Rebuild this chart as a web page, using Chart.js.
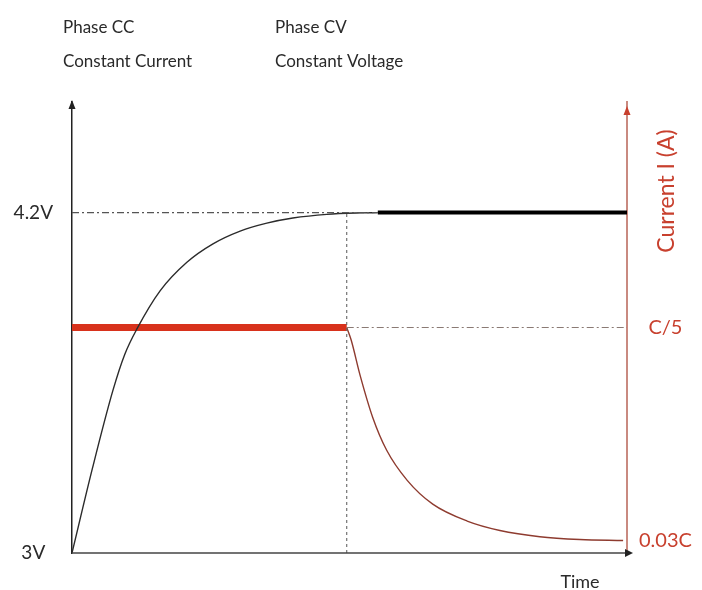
<!DOCTYPE html>
<html>
<head>
<meta charset="utf-8">
<script src="https://cdn.jsdelivr.net/npm/chart.js@4.4.0/dist/chart.umd.min.js"></script>
<style>
body { margin: 0; background: #fff; }
#wrap { width: 702px; height: 590px; position: relative; }
</style>
</head>
<body>
<div id="wrap"><canvas id="charge"></canvas></div>
<script>
// time runs 0..100 across the plot
var timeV = [0, 3.7, 7.4, 9.5, 11.7, 15.9, 20.7, 25.4, 30.3, 35.1, 39.8, 45.9, 51.9, 55.1];
var voltage = [3.0, 3.30, 3.575, 3.70, 3.790, 3.925, 4.025, 4.090, 4.135, 4.163, 4.181, 4.194, 4.199, 4.2];
var timeCV = [55.1, 100];
var voltageCV = [4.2, 4.2];
var timeCC = [0, 49.5];
var currentCC = [0.2, 0.2];
var timeI = [49.5, 50.3, 51.9, 54.2, 56.7, 60.4, 65.0, 71.2, 77.1, 84.3, 91.5, 99.3];
var current = [0.2, 0.190, 0.162, 0.128, 0.102, 0.078, 0.059, 0.0455, 0.0380, 0.0330, 0.0308, 0.030];
var voltTicks = [3, 4.2];
var voltLabels = ['3V', '4.2V'];
var ampTicks = [0.03, 0.2];
var ampLabels = ['0.03C', 'C/5'];
var phaseSwitch = 49.5;

function pts(xs, ys) {
	var out = [];
	for (var i in xs) {
		out.push({x: xs[i], y: ys[i]});
	}
	return out;
}

var FONT = 'Lato, "Open Sans", sans-serif';
var dashDot = [7, 3, 2, 3];

var extras = {
	id: 'extras',
	afterDraw: function(chart) {
		var c = chart.ctx;
		var a = chart.chartArea;
		c.save();
		// x axis with arrow
		c.strokeStyle = '#444';
		c.lineWidth = 1.5;
		c.beginPath();
		c.moveTo(a.left, a.bottom);
		c.lineTo(a.right + 3, a.bottom);
		c.stroke();
		c.fillStyle = '#222';
		c.beginPath();
		c.moveTo(a.right + 6, a.bottom);
		c.lineTo(a.right - 2, a.bottom - 4);
		c.lineTo(a.right - 2, a.bottom + 4);
		c.closePath();
		c.fill();
		// left arrow
		c.beginPath();
		c.moveTo(a.left, a.top - 2);
		c.lineTo(a.left - 3.5, a.top + 7);
		c.lineTo(a.left + 3.5, a.top + 7);
		c.closePath();
		c.fill();
		// right arrow
		c.fillStyle = '#c8402e';
		c.beginPath();
		c.moveTo(a.right, a.top + 4);
		c.lineTo(a.right - 3.5, a.top + 13);
		c.lineTo(a.right + 3.5, a.top + 13);
		c.closePath();
		c.fill();

		c.fillStyle = '#2a2a2a';
		c.font = '17px ' + FONT;
		c.textBaseline = 'middle';
		c.textAlign = 'left';
		c.fillText('Phase CC', 63, 28);
		c.fillText('Constant Current', 63, 62);
		c.fillText('Phase CV', 275, 28);
		c.fillText('Constant Voltage', 275, 62);
		c.textAlign = 'center';
		c.font = '18px ' + FONT;
		c.fillText('Time', 580, 582);

		c.translate(667, 191);
		c.rotate(-Math.PI / 2);
		c.fillStyle = '#c8402e';
		c.font = '23px ' + FONT;
		c.fillText('Current I (A)', 0, 0);
		c.restore();
	}
};

var ctx = document.getElementById('charge');

var chartdata = {
	datasets: [
		{
			label: 'guide 4.2V',
			data: pts([0, 55.1], [4.2, 4.2]),
			yAxisID: 'y',
			borderColor: '#555',
			borderWidth: 1.1,
			borderDash: dashDot
		},
		{
			label: 'guide switch',
			data: pts([phaseSwitch, phaseSwitch], [3, 4.2]),
			yAxisID: 'y',
			borderColor: '#666',
			borderWidth: 1.1,
			borderDash: [3, 3]
		},
		{
			label: 'guide C/5',
			data: pts([phaseSwitch, 100], [0.2, 0.2]),
			yAxisID: 'y1',
			borderColor: '#8a7a74',
			borderWidth: 1.1,
			borderDash: dashDot
		},
		{
			label: 'Voltage',
			data: pts(timeV, voltage),
			yAxisID: 'y',
			borderColor: '#2b2b2b',
			borderWidth: 1.4,
			cubicInterpolationMode: 'monotone'
		},
		{
			label: 'Voltage CV',
			data: pts(timeCV, voltageCV),
			yAxisID: 'y',
			borderColor: '#000',
			borderWidth: 4
		},
		{
			label: 'Current CC',
			data: pts(timeCC, currentCC),
			yAxisID: 'y1',
			borderColor: '#d8321c',
			borderWidth: 7
		},
		{
			label: 'Current',
			data: pts(timeI, current),
			yAxisID: 'y1',
			borderColor: '#8e3b2f',
			borderWidth: 1.4,
			cubicInterpolationMode: 'monotone'
		}
	]
};

var chart = new Chart(ctx, {
	type: 'line',
	data: chartdata,
	options: {
		responsive: true,
		maintainAspectRatio: false,
		animation: false,
		elements: { point: { radius: 0 } },
		layout: { padding: { top: 102, bottom: 37, left: 0, right: 0 } },
		plugins: {
			legend: { display: false },
			tooltip: { enabled: false }
		},
		scales: {
			x: {
				type: 'linear',
				min: 0,
				max: 100,
				display: false
			},
			y: {
				position: 'left',
				min: 3,
				max: 4.59,
				grid: { display: false, drawTicks: false },
				border: { color: '#222', width: 1.5 },
				afterBuildTicks: function(scale) {
					scale.ticks = voltTicks.map(function(v) { return {value: v}; });
				},
				afterFit: function(scale) { scale.width = 72; },
				ticks: {
					autoSkip: false,
					padding: 19,
					crossAlign: 'center',
					color: '#2a2a2a',
					font: { family: FONT, size: 19 },
					callback: function(value) {
						return voltLabels[voltTicks.indexOf(value)];
					}
				}
			},
			y1: {
				position: 'right',
				min: 0.02,
				max: 0.38,
				grid: { display: false, drawTicks: false },
				border: { color: '#c98a80', width: 2 },
				afterBuildTicks: function(scale) {
					scale.ticks = ampTicks.map(function(v) { return {value: v}; });
				},
				afterFit: function(scale) { scale.width = 75; },
				ticks: {
					autoSkip: false,
					padding: 12,
					crossAlign: 'center',
					color: '#c8402e',
					font: { family: FONT, size: 20 },
					callback: function(value) {
						return ampLabels[ampTicks.indexOf(value)];
					}
				}
			}
		}
	},
	plugins: [extras]
});
</script>
</body>
</html>
